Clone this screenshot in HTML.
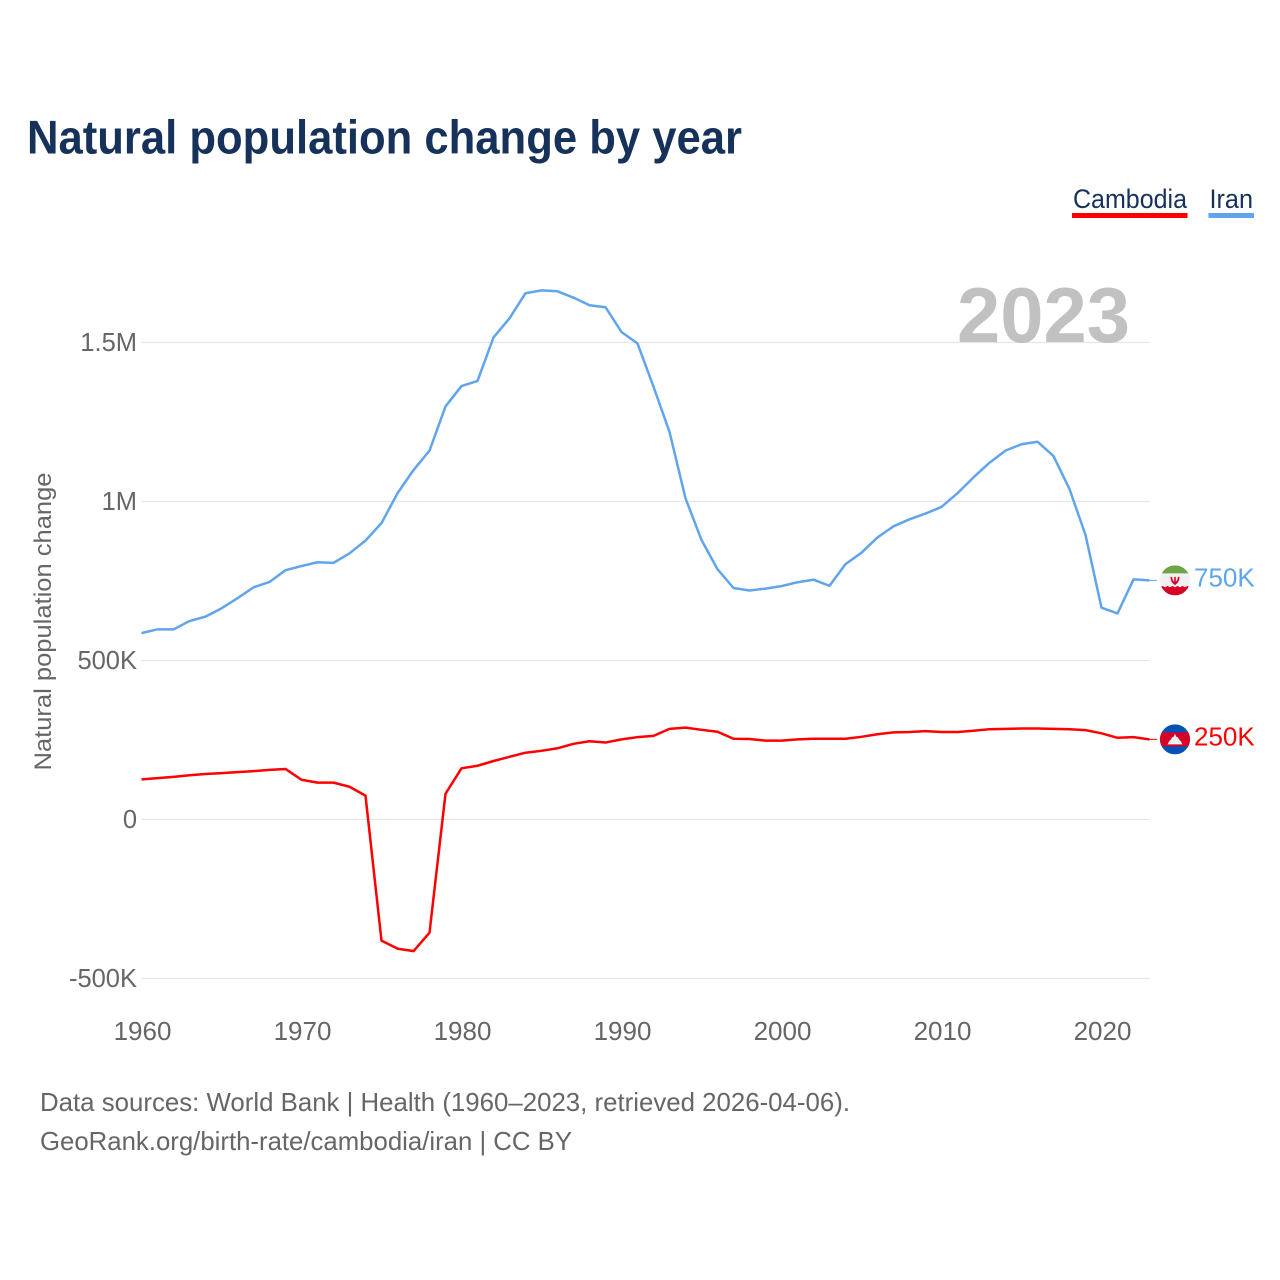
<!DOCTYPE html>
<html lang="en">
<head>
<meta charset="utf-8">
<title>Natural population change by year</title>
<style>
  html, body { margin: 0; padding: 0; background: #fff; }
  svg { display: block; font-family: "Liberation Sans", sans-serif; }
</style>
</head>
<body>
<svg id="chart" xmlns="http://www.w3.org/2000/svg" width="1280" height="1280" viewBox="0 0 1280 1280">
  <defs>
    <clipPath id="flag-clip"><circle cx="0" cy="0" r="15"></circle></clipPath>
  </defs>
  <rect x="0" y="0" width="1280" height="1280" fill="#ffffff"></rect>

  <text x="27" y="153.5" font-size="47" font-weight="700" fill="#16325a" textLength="715" lengthAdjust="spacingAndGlyphs">Natural population change by year</text>

  <g>
    <g>
      <text x="1073" y="208" font-size="26.5" fill="#16325a" textLength="114" lengthAdjust="spacingAndGlyphs">Cambodia</text>
      <rect x="1072" y="213" width="115.5" height="5" fill="#ff0000"></rect>
    </g>
    <g>
      <text x="1209.5" y="208" font-size="26.5" fill="#16325a" textLength="43.5" lengthAdjust="spacingAndGlyphs">Iran</text>
      <rect x="1208.5" y="213" width="45.5" height="5" fill="#60a5ec"></rect>
    </g>
  </g>

  <text transform="translate(51 770.5) rotate(-90)" x="0" y="0" font-size="24.5" fill="#666666" textLength="298" lengthAdjust="spacingAndGlyphs">Natural population change</text>

  <g id="grid"></g>
  <g id="y-ticks"></g>
  <g id="x-ticks"></g>

  <text x="957" y="342" font-size="78" font-weight="700" fill="#c1c1c1" textLength="173" lengthAdjust="spacingAndGlyphs">2023</text>

  <g id="series"></g>

  <g id="flag-iran">
    <g clip-path="url(#flag-clip)">
      <rect x="-15" y="-15" width="30" height="8.5" fill="#6da544"></rect>
      <rect x="-15" y="-7" width="30" height="14" fill="#f0f0f0"></rect>
      <rect x="-15" y="7" width="30" height="8" fill="#d80027"></rect>
      <path d="M-15 7 l2.5 -1.5 l2.5 1.5 l2.5 -1.5 l2.5 1.5 l2.5 -1.5 l2.5 1.5 l2.5 -1.5 l2.5 1.5 l2.5 -1.5 l2.5 1.5 l2.5 -1.5 l2.5 1.5 v1 h-30 Z" fill="#d80027"></path>
      <path d="M-4.5 -3.5 H-2.8 C-2.8 -0.5 -1.5 1 -0.8 1.2 V-3.5 H0.8 V1.2 C1.5 1 2.8 -0.5 2.8 -3.5 H4.5 C4.5 1 2 3.6 0.8 3.8 V4.5 H-0.8 V3.8 C-2 3.6 -4.5 1 -4.5 -3.5 Z" fill="#d80027"></path>
    </g>
  </g>
  <g id="flag-cambodia">
    <g clip-path="url(#flag-clip)">
      <rect x="-15" y="-15" width="30" height="30" fill="#0052b4"></rect>
      <rect x="-15" y="-7" width="30" height="14" fill="#d80027"></rect>
      <path d="M-7.5 5 L-6 2 L-4 0 L-3 -2 L-1.5 -2.5 L0 -5.5 L1.5 -2.5 L3 -2 L4 0 L6 2 L7.5 5 Z" fill="#f0f0f0"></path>
    </g>
  </g>
  <g id="end-labels"></g>

  <text x="40" y="1111" font-size="26" fill="#666666" textLength="810" lengthAdjust="spacingAndGlyphs">Data sources: World Bank | Health (1960–2023, retrieved 2026-04-06).</text>
  <text x="40" y="1150" font-size="26" fill="#666666" textLength="532" lengthAdjust="spacingAndGlyphs">GeoRank.org/birth-rate/cambodia/iran | CC BY</text>
</svg>

<script>
const years = [1960,1961,1962,1963,1964,1965,1966,1967,1968,1969,
  1970,1971,1972,1973,1974,1975,1976,1977,1978,1979,
  1980,1981,1982,1983,1984,1985,1986,1987,1988,1989,
  1990,1991,1992,1993,1994,1995,1996,1997,1998,1999,
  2000,2001,2002,2003,2004,2005,2006,2007,2008,2009,
  2010,2011,2012,2013,2014,2015,2016,2017,2018,2019,
  2020,2021,2022,2023];

const iranValues = [586,598,598,624,638,664,696,730,747,784,
  797,809,807,837,877,932,1026,1099,1160,1299,
  1363,1379,1516,1576,1655,1664,1661,1641,1617,1611,
  1533,1497,1361,1219,1010,879,787,728,720,726,
  734,746,754,735,803,839,887,922,944,962,
  983,1026,1076,1122,1160,1180,1188,1143,1039,895,
  666,648,755,752];

const cambodiaValues = [126,130,134,139,143,146,149,152,156,159,
  125,116,116,103,75,-381,-406,-414,-356,81,
  161,169,184,197,210,216,224,238,246,242,
  252,259,263,285,289,282,276,254,253,248,
  248,252,254,254,254,260,268,274,275,278,
  275,275,279,284,285,286,286,285,284,281,
  271,257,259,252];

const yTickValues = [-500,0,500,1000,1500];
const yTickLabels = ["-500K","0","500K","1M","1.5M"];
const xTickValues = [1960,1970,1980,1990,2000,2010,2020];
const endLabelIran = "750K";
const endLabelCambodia = "250K";

const SVG_NS = "http://www.w3.org/2000/svg";
const IRAN_COLOR = "#60a5ec";
const CAMBODIA_COLOR = "#ff0000";

function xScale(year) { return 141.5 + (year - 1960) * 16; }
function yScale(value) { return 819.5 - value * 0.318; }

function make(tag, attrs, parent, content) {
  const el = document.createElementNS(SVG_NS, tag);
  for (const key in attrs) el.setAttribute(key, attrs[key]);
  if (content !== undefined) el.textContent = content;
  parent.appendChild(el);
  return el;
}

const grid = document.getElementById("grid");
const yTicks = document.getElementById("y-ticks");
const xTicks = document.getElementById("x-ticks");
const seriesGroup = document.getElementById("series");
const endLabels = document.getElementById("end-labels");

yTickValues.forEach(function (value, i) {
  const line = make("line", {x1: 141.5, x2: 1149.5, y1: yScale(value), y2: yScale(value), stroke: "#e6e6e6", "stroke-width": 1.3}, grid);
  
  
  const label = make("text", {x: 137, y: yScale(value) + 8.5, "text-anchor": "end", "font-size": 25.5, fill: "#666666"}, yTicks, yTickLabels[i]);
  
  
});

xTickValues.forEach(function (year) {
  const label = make("text", {x: xScale(year) + 1, y: 1040, "text-anchor": "middle", "font-size": 26, fill: "#666666"}, xTicks, String(year));
  
  
});

function linePath(values) {
  return values.map(function (v, i) {
    return (i ? "L" : "M") + xScale(years[i]) + " " + yScale(v).toFixed(2);
  }).join(" ");
}

const lineCambodia = make("path", {d: linePath(cambodiaValues), fill: "none", stroke: CAMBODIA_COLOR, "stroke-width": 2.5, "stroke-linejoin": "round"}, seriesGroup);



const lineIran = make("path", {d: linePath(iranValues), fill: "none", stroke: IRAN_COLOR, "stroke-width": 2.5, "stroke-linejoin": "round"}, seriesGroup);



const lastYear = years[years.length - 1];
const lastCambodiaY = yScale(cambodiaValues[cambodiaValues.length - 1]);
const lastIranY = yScale(iranValues[iranValues.length - 1]);

const connectorCambodia = make("line", {x1: xScale(lastYear), x2: xScale(lastYear) + 7.5, y1: lastCambodiaY, y2: lastCambodiaY, stroke: CAMBODIA_COLOR, "stroke-width": 1}, seriesGroup);



const connectorIran = make("line", {x1: xScale(lastYear), x2: xScale(lastYear) + 7.5, y1: lastIranY, y2: lastIranY, stroke: IRAN_COLOR, "stroke-width": 1}, seriesGroup);



document.getElementById("flag-iran").setAttribute("transform", "translate(" + (xScale(lastYear) + 25.5) + " " + lastIranY + ")");
document.getElementById("flag-cambodia").setAttribute("transform", "translate(" + (xScale(lastYear) + 25.5) + " " + lastCambodiaY + ")");

const labelIran = make("text", {x: xScale(lastYear) + 44.5, y: lastIranY + 6, "font-size": 26, fill: IRAN_COLOR}, endLabels, endLabelIran);



const labelCambodia = make("text", {x: xScale(lastYear) + 44.5, y: lastCambodiaY + 6, "font-size": 26, fill: CAMBODIA_COLOR}, endLabels, endLabelCambodia);


</script>
</body>
</html>
